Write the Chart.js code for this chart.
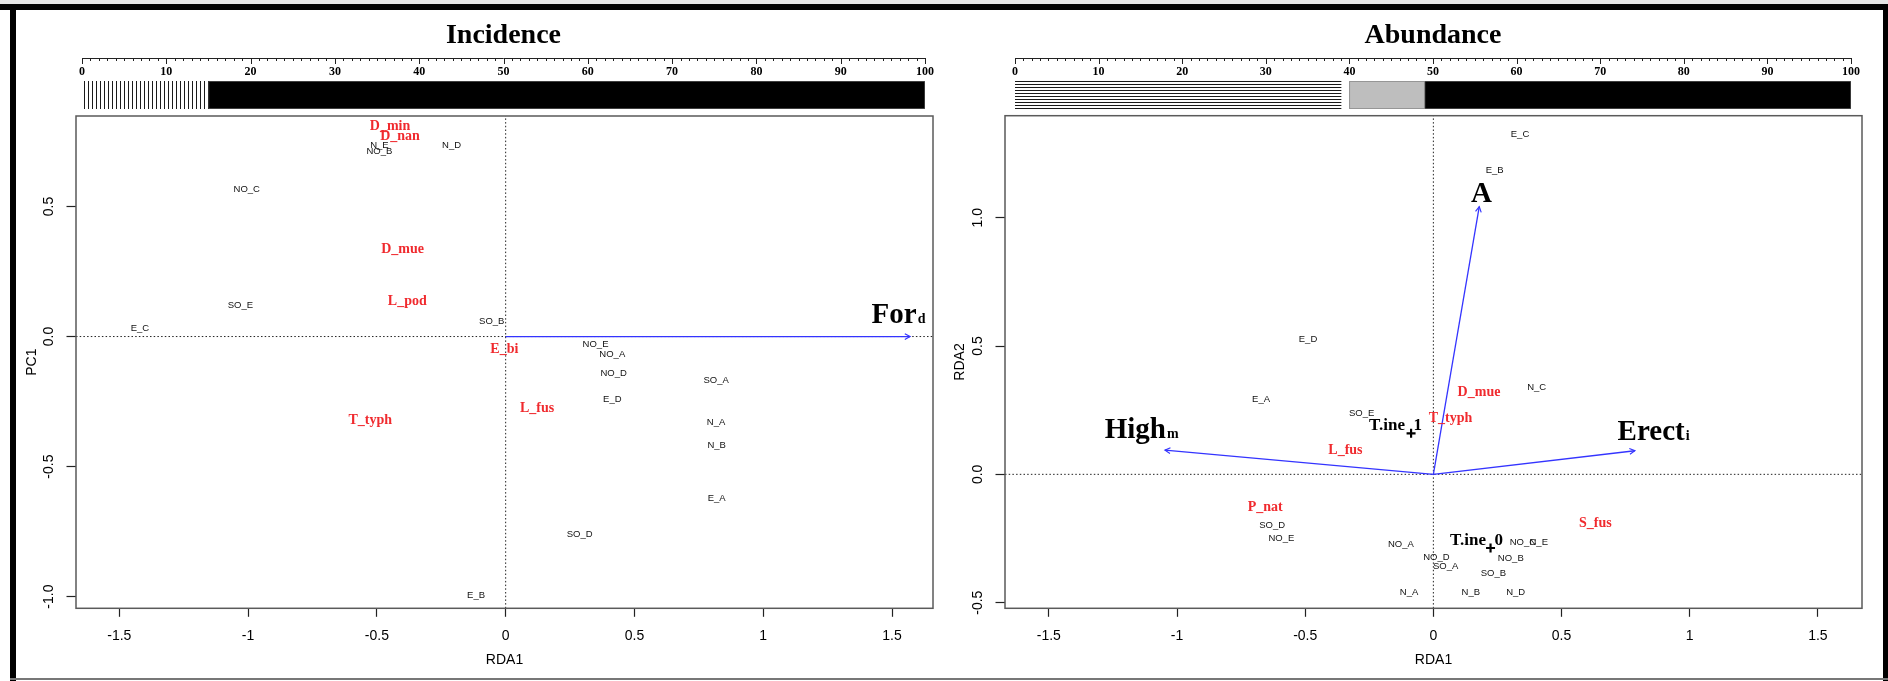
<!DOCTYPE html>
<html>
<head>
<meta charset="utf-8">
<title>Incidence / Abundance</title>
<script src="https://cdn.jsdelivr.net/npm/chart.js@4.4.1/dist/chart.umd.min.js"></script>
<style>
  body { margin: 0; background: #fff; }
  #fig { position: relative; width: 1888px; height: 681px; overflow: hidden; background: #fff; }
  #fig canvas { position: absolute; }
  .edge { position: absolute; }
</style>
</head>
<body>
<div id="fig">
  <canvas id="incRuler" width="944" height="115" style="left:0;top:0"></canvas>
  <canvas id="incPlot" width="944" height="581" style="left:0;top:100px"></canvas>
  <canvas id="abuRuler" width="944" height="115" style="left:944px;top:0"></canvas>
  <canvas id="abuPlot" width="944" height="581" style="left:944px;top:100px"></canvas>
  <div class="edge" style="left:0;top:0;width:1888px;height:4px;background:#e4e4e4"></div>
  <div class="edge" style="left:0;top:4px;width:1888px;height:6px;background:#000"></div>
  <div class="edge" style="left:10px;top:4px;width:6px;height:677px;background:#000"></div>
  <div class="edge" style="left:1883px;top:4px;width:5px;height:677px;background:#000"></div>
  <div class="edge" style="left:10px;top:678px;width:1878px;height:2px;background:#777"></div>
</div>
<script>
// ---- Incidence (RDA1 vs PC1) ----
const incSites = ['E_C', 'SO_E', 'NO_C', 'N_E', 'NO_B', 'N_D', 'SO_B', 'NO_E', 'NO_A', 'NO_D', 'E_D', 'SO_A', 'N_A', 'N_B', 'E_A', 'SO_D', 'E_B'];
const incSiteX = [-1.42, -1.03, -1.005, -0.49, -0.49, -0.21, -0.054, 0.349, 0.414, 0.419, 0.414, 0.817, 0.817, 0.819, 0.819, 0.287, -0.115];
const incSiteY = [0.033, 0.12, 0.567, 0.736, 0.711, 0.736, 0.059, -0.029, -0.069, -0.142, -0.24, -0.167, -0.332, -0.419, -0.624, -0.762, -0.996];
const incSpecies = ['D_min', 'D_nan', 'D_mue', 'L_pod', 'E_bi', 'L_fus', 'T_typh'];
const incSpeciesX = [-0.449, -0.41, -0.4, -0.382, -0.005, 0.122, -0.526];
const incSpeciesY = [0.807, 0.771, 0.335, 0.134, -0.048, -0.277, -0.324];
const incArrowNames = ['For'];
const incArrowSubs = ['d'];
const incArrowX = [1.57];
const incArrowY = [0];
const incArrowLabelX = [1.525];
const incArrowLabelY = [0.087];
const incXRange = [-1.668, 1.659];
const incYRange = [-1.045, 0.848];
const incYTicks = [-1, -0.5, 0, 0.5];
const incYTickLabels = ['-1.0', '-0.5', '0.0', '0.5'];
const incBar = [[0, 15], [15, 100]];

// ---- Abundance (RDA1 vs RDA2) ----
const abuSites = ['E_C', 'E_B', 'E_D', 'E_A', 'SO_E', 'N_C', 'SO_D', 'NO_E', 'NO_A', 'NO_C', 'N_E', 'NO_D', 'SO_A', 'NO_B', 'SO_B', 'N_A', 'N_B', 'N_D'];
const abuSiteX = [0.338, 0.239, -0.489, -0.672, -0.28, 0.403, -0.629, -0.593, -0.127, 0.349, 0.411, 0.012, 0.048, 0.302, 0.234, -0.095, 0.146, 0.321];
const abuSiteY = [1.326, 1.185, 0.527, 0.291, 0.238, 0.338, -0.2, -0.248, -0.274, -0.267, -0.267, -0.325, -0.359, -0.329, -0.387, -0.458, -0.461, -0.458];
const abuSpecies = ['D_mue', 'T_typh', 'L_fus', 'P_nat', 'S_fus'];
const abuSpeciesX = [0.178, 0.067, -0.343, -0.656, 0.632];
const abuSpeciesY = [0.32, 0.218, 0.095, -0.129, -0.191];
const abuArrowNames = ['A', 'High', 'Erect'];
const abuArrowSubs = ['', 'm', 'i'];
const abuArrowX = [0.179, -1.047, 0.786];
const abuArrowY = [1.043, 0.094, 0.092];
const abuArrowLabelX = [0.188, -1.138, 0.859];
const abuArrowLabelY = [1.097, 0.179, 0.17];
const abuCentroidNames = ['T.ine\u20021', 'T.ine\u20020'];
const abuCentroidLabelX = [-0.148, 0.168];
const abuCentroidLabelY = [0.188, -0.257];
const abuCentroidX = [-0.087, 0.223];
const abuCentroidY = [0.16, -0.287];
const abuXRange = [-1.671, 1.672];
const abuYRange = [-0.522, 1.3975];
const abuYTicks = [-0.5, 0, 0.5, 1];
const abuYTickLabels = ['-0.5', '0.0', '0.5', '1.0'];
const abuBar = [[0, 39], [40, 49], [49, 100]];

// shared axes
const xTicks = [-1.5, -1, -0.5, 0, 0.5, 1, 1.5];
const xTickLabels = ['-1.5', '-1', '-0.5', '0', '0.5', '1', '1.5'];
const rulerTicks = [0, 10, 20, 30, 40, 50, 60, 70, 80, 90, 100];

const SANS = '"Liberation Sans", Arial, sans-serif';
const SERIF = '"Liberation Serif", "Times New Roman", serif';
const RED = '#f02a2e';
const BLUE = '#3434ff';

Chart.defaults.font.family = SANS;
Chart.defaults.color = '#000';

function pts(xs, ys) {
    return xs.map((x, i) => ({ x: x, y: ys[i] }));
}

function hatch(vertical) {
    const c = document.createElement('canvas');
    c.width = vertical ? 4 : 1;
    c.height = vertical ? 1 : 3;
    const g = c.getContext('2d');
    g.fillStyle = '#1a1a1a';
    g.fillRect(0, 0, 1, 1);
    return g.createPattern(c, 'repeat');
}

// text labels at the point positions computed by the scales
const textPlugin = {
    id: 'pointText',
    afterDatasetsDraw(chart) {
        const ctx = chart.ctx;
        chart.data.datasets.forEach((ds, i) => {
            if (!ds.texts) return;
            const meta = chart.getDatasetMeta(i);
            meta.data.forEach((el, j) => {
                ctx.save();
                if (ds.textKind === 'big') {
                    const main = ds.texts[j], sub = ds.subs[j];
                    ctx.font = 'bold 29px ' + SERIF;
                    const w1 = ctx.measureText(main).width;
                    ctx.font = 'bold 14px ' + SERIF;
                    const w2 = sub ? ctx.measureText(sub).width + 1 : 0;
                    const x0 = el.x - (w1 + w2) / 2;
                    const base = el.y + 9.5;
                    ctx.fillStyle = '#000';
                    ctx.textAlign = 'left';
                    ctx.textBaseline = 'alphabetic';
                    ctx.font = 'bold 29px ' + SERIF;
                    ctx.fillText(main, x0, base);
                    if (sub) {
                        ctx.font = 'bold 14px ' + SERIF;
                        ctx.fillText(sub, x0 + w1 + 1, base);
                    }
                } else {
                    if (ds.textKind === 'site') {
                        ctx.font = '9.5px ' + SANS;
                        ctx.fillStyle = '#111';
                    } else if (ds.textKind === 'species') {
                        ctx.font = 'bold 14px ' + SERIF;
                        ctx.fillStyle = RED;
                    } else {
                        ctx.font = 'bold 17px ' + SERIF;
                        ctx.fillStyle = '#000';
                    }
                    ctx.textAlign = 'center';
                    ctx.textBaseline = 'middle';
                    ctx.fillText(ds.texts[j], el.x, el.y);
                }
                ctx.restore();
            });
        });
    }
};

// arrow heads, box frame and rotated y tick labels (R style)
const framePlugin = {
    id: 'rFrame',
    afterDatasetsDraw(chart) {
        const ctx = chart.ctx;
        chart.data.datasets.forEach((ds, i) => {
            if (!ds.arrowHead) return;
            const d = chart.getDatasetMeta(i).data;
            const a = Math.atan2(d[1].y - d[0].y, d[1].x - d[0].x);
            ctx.save();
            ctx.strokeStyle = BLUE;
            ctx.lineWidth = 1.2;
            ctx.beginPath();
            ctx.moveTo(d[1].x - 6 * Math.cos(a - 0.5), d[1].y - 6 * Math.sin(a - 0.5));
            ctx.lineTo(d[1].x, d[1].y);
            ctx.lineTo(d[1].x - 6 * Math.cos(a + 0.5), d[1].y - 6 * Math.sin(a + 0.5));
            ctx.stroke();
            ctx.restore();
        });
    },
    afterDraw(chart) {
        const ctx = chart.ctx;
        const a = chart.chartArea;
        ctx.save();
        ctx.strokeStyle = '#5a5a5a';
        ctx.lineWidth = 1.5;
        ctx.strokeRect(a.left, a.top, a.right - a.left, a.bottom - a.top);
        const ys = chart.scales.y;
        const labels = chart.options.yTickLabels;
        ctx.fillStyle = '#000';
        ctx.font = '14px ' + SANS;
        ctx.textAlign = 'center';
        ctx.textBaseline = 'middle';
        ys.ticks.forEach((t, i) => {
            ctx.save();
            ctx.translate(a.left - 27, ys.getPixelForValue(t.value));
            ctx.rotate(-Math.PI / 2);
            ctx.fillText(labels[i], 0, 0);
            ctx.restore();
        });
        ctx.restore();
    }
};

// the 0..100 ruler above each bar
const rulerPlugin = {
    id: 'ruler',
    afterDraw(chart) {
        const ctx = chart.ctx;
        const xs = chart.scales.x;
        const top = chart.chartArea.top - 23;
        ctx.save();
        ctx.strokeStyle = '#222';
        ctx.lineWidth = 1;
        ctx.beginPath();
        ctx.moveTo(xs.getPixelForValue(0), top + 0.5);
        ctx.lineTo(xs.getPixelForValue(100), top + 0.5);
        for (let v = 0; v <= 100; v++) {
            const x = Math.round(xs.getPixelForValue(v)) + 0.5;
            ctx.moveTo(x, top);
            ctx.lineTo(x, top + (v % 10 === 0 ? 6 : 3));
        }
        ctx.stroke();
        ctx.restore();
    }
};

function rulerChart(id, title, segments, fills, borders, padLeft, padRight) {
    new Chart(document.getElementById(id), {
        type: 'bar',
        data: {
            labels: [''],
            datasets: segments.map((s, i) => ({
                data: [s],
                backgroundColor: fills[i],
                borderColor: borders[i],
                borderWidth: borders[i] ? 1 : 0,
                borderSkipped: false,
                barPercentage: 1,
                categoryPercentage: 1,
                grouped: false
            }))
        },
        options: {
            indexAxis: 'y',
            responsive: false,
            animation: false,
            events: [],
            layout: { padding: { left: padLeft, right: padRight, top: 0, bottom: 6 } },
            plugins: {
                legend: { display: false },
                tooltip: { enabled: false },
                title: {
                    display: true,
                    text: title,
                    fullSize: false,
                    color: '#000',
                    font: { family: SERIF, weight: 'bold', size: 28 },
                    padding: { top: 19, bottom: 0 }
                }
            },
            scales: {
                x: {
                    type: 'linear',
                    position: 'top',
                    min: 0,
                    max: 100,
                    afterBuildTicks: s => { s.ticks = rulerTicks.map(v => ({ value: v })); },
                    afterFit: s => { s.height = 28.4; },
                    ticks: {
                        color: '#000',
                        font: { family: SERIF, weight: 'bold', size: 12 },
                        padding: 2,
                        maxRotation: 0,
                        autoSkip: false
                    },
                    grid: { display: false, drawTicks: false },
                    border: { display: false }
                },
                y: { display: false }
            }
        },
        plugins: [rulerPlugin]
    });
}

function ordination(id, o) {
    const datasets = [];
    // arrows first so they sit on top of the dotted zero lines
    o.arrowX.forEach((ax, i) => {
        datasets.push({
            data: [{ x: 0, y: 0 }, { x: ax, y: o.arrowY[i] }],
            showLine: true, borderColor: BLUE, borderWidth: 1.3, pointRadius: 0, arrowHead: true
        });
    });
    datasets.push({
        data: [{ x: o.xRange[0], y: 0 }, { x: o.xRange[1], y: 0 }],
        showLine: true, borderColor: '#222', borderWidth: 1, borderDash: [1.5, 2.2], pointRadius: 0
    });
    datasets.push({
        data: [{ x: 0, y: o.yRange[0] }, { x: 0, y: o.yRange[1] }],
        showLine: true, borderColor: '#222', borderWidth: 1, borderDash: [1.5, 2.2], pointRadius: 0
    });
    if (o.centroidX) {
        datasets.push({
            data: pts(o.centroidX, o.centroidY),
            pointStyle: 'cross', pointRadius: 4.5, borderColor: '#000', borderWidth: 2.2
        });
        datasets.push({
            data: pts(o.centroidLabelX, o.centroidLabelY), pointRadius: 0,
            texts: o.centroidNames, textKind: 'centroid'
        });
    }
    datasets.push({ data: pts(o.siteX, o.siteY), pointRadius: 0, texts: o.sites, textKind: 'site' });
    datasets.push({ data: pts(o.speciesX, o.speciesY), pointRadius: 0, texts: o.species, textKind: 'species' });
    datasets.push({
        data: pts(o.arrowLabelX, o.arrowLabelY), pointRadius: 0,
        texts: o.arrowNames, subs: o.arrowSubs, textKind: 'big'
    });

    new Chart(document.getElementById(id), {
        type: 'scatter',
        data: { datasets: datasets },
        options: {
            responsive: false,
            animation: false,
            events: [],
            yTickLabels: o.yTickLabels,
            layout: { padding: { left: 0, right: o.padRight, top: o.padTop, bottom: 0 } },
            plugins: { legend: { display: false }, tooltip: { enabled: false } },
            scales: {
                x: {
                    min: o.xRange[0],
                    max: o.xRange[1],
                    afterBuildTicks: s => { s.ticks = xTicks.map(v => ({ value: v })); },
                    afterFit: s => { s.height = 72.7; },
                    ticks: {
                        callback: (v, i) => xTickLabels[i],
                        color: '#000',
                        font: { size: 14 },
                        padding: 11,
                        maxRotation: 0,
                        autoSkip: false
                    },
                    grid: { drawOnChartArea: false, drawTicks: true, tickLength: 8.5, tickColor: '#222', tickWidth: 1.2 },
                    border: { display: false },
                    title: { display: true, text: 'RDA1', color: '#000', font: { size: 14 }, padding: { top: 0, bottom: 12.6 } }
                },
                y: {
                    min: o.yRange[0],
                    max: o.yRange[1],
                    afterBuildTicks: s => { s.ticks = o.yTicks.map(v => ({ value: v })); },
                    afterFit: s => { s.width = o.yWidth; },
                    ticks: { display: false },
                    grid: { drawOnChartArea: false, drawTicks: true, tickLength: 9.5, tickColor: '#222', tickWidth: 1.2 },
                    border: { display: false },
                    title: { display: true, text: o.yTitle, color: '#000', font: { size: 14 }, padding: { top: o.yTitlePad, bottom: 0 } }
                }
            }
        },
        plugins: [framePlugin, textPlugin]
    });
}

rulerChart('incRuler', 'Incidence', incBar, [hatch(true), '#000'], [null, '#555'], 82, 19);
rulerChart('abuRuler', 'Abundance', abuBar, [hatch(false), '#bebebe', '#000'], [null, '#888', '#555'], 71, 37);

ordination('incPlot', {
    sites: incSites, siteX: incSiteX, siteY: incSiteY,
    species: incSpecies, speciesX: incSpeciesX, speciesY: incSpeciesY,
    arrowNames: incArrowNames, arrowSubs: incArrowSubs, arrowX: incArrowX, arrowY: incArrowY,
    arrowLabelX: incArrowLabelX, arrowLabelY: incArrowLabelY,
    xRange: incXRange, yRange: incYRange, yTicks: incYTicks, yTickLabels: incYTickLabels,
    yTitle: 'PC1', yWidth: 76, yTitlePad: 23.6, padRight: 11, padTop: 16
});

ordination('abuPlot', {
    sites: abuSites, siteX: abuSiteX, siteY: abuSiteY,
    species: abuSpecies, speciesX: abuSpeciesX, speciesY: abuSpeciesY,
    arrowNames: abuArrowNames, arrowSubs: abuArrowSubs, arrowX: abuArrowX, arrowY: abuArrowY,
    arrowLabelX: abuArrowLabelX, arrowLabelY: abuArrowLabelY,
    centroidNames: abuCentroidNames, centroidX: abuCentroidX, centroidY: abuCentroidY,
    centroidLabelX: abuCentroidLabelX, centroidLabelY: abuCentroidLabelY,
    xRange: abuXRange, yRange: abuYRange, yTicks: abuYTicks, yTickLabels: abuYTickLabels,
    yTitle: 'RDA2', yWidth: 61, yTitlePad: 7.6, padRight: 26, padTop: 15.7
});
</script>
</body>
</html>
